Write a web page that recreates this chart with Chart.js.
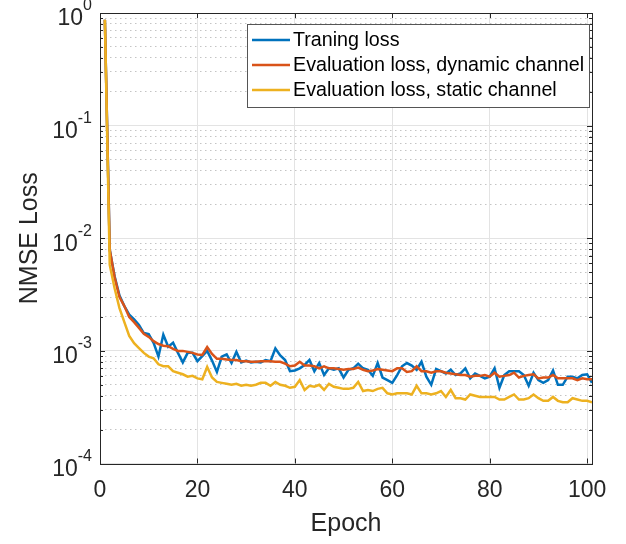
<!DOCTYPE html>
<html>
<head>
<meta charset="utf-8">
<script src="https://cdn.jsdelivr.net/npm/chart.js@4.4.1/dist/chart.umd.min.js"></script>
<style>
  html, body { margin: 0; padding: 0; background: #fff; }
</style>
</head>
<body>
<canvas id="lossChart" width="626" height="544"></canvas>
<script>
const epochs = [1,2,3,4,5,6,7,8,9,10,11,12,13,14,15,16,17,18,19,20,
  21,22,23,24,25,26,27,28,29,30,31,32,33,34,35,36,37,38,39,40,
  41,42,43,44,45,46,47,48,49,50,51,52,53,54,55,56,57,58,59,60,
  61,62,63,64,65,66,67,68,69,70,71,72,73,74,75,76,77,78,79,80,
  81,82,83,84,85,86,87,88,89,90,91,92,93,94,95,96,97,98,99,100,101];

const trainLoss = [0.87,0.0079,0.0046,0.0031,0.0025,0.0021,0.0019,0.0017,0.00144,0.00141,
  0.00118,0.00089,0.00139,0.00109,0.00118,0.00096,0.00079,0.00096,0.00096,0.00081,
  0.0009,0.001,0.00082,0.00065,0.00089,0.00093,0.00078,0.00098,0.00079,0.00082,
  0.00079,0.0008,0.00079,0.00083,0.00081,0.00105,0.00091,0.00083,0.00066,0.00067,
  0.0007,0.00075,0.00083,0.00066,0.00078,0.00061,0.0007,0.00068,0.0007,0.00058,
  0.00068,0.0007,0.00077,0.0007,0.00068,0.0006,0.00078,0.00058,0.00055,0.00052,
  0.00061,0.00073,0.00078,0.00074,0.00068,0.0008,0.00059,0.0005,0.00069,0.00066,
  0.00063,0.00068,0.00061,0.00063,0.0007,0.00057,0.00063,0.0006,0.00057,0.00059,
  0.0007,0.00047,0.00061,0.00066,0.00066,0.00066,0.00061,0.00049,0.00064,0.00055,
  0.00052,0.00055,0.00067,0.0005,0.0005,0.00059,0.00059,0.00057,0.00061,0.00062,0.00052];

const evalDynamic = [0.87,0.0079,0.0045,0.003,0.0025,0.002,0.0018,0.0016,0.00142,0.00133,
  0.00122,0.00115,0.00111,0.0011,0.00104,0.001,0.001,0.00098,0.00096,0.00093,
  0.00092,0.00108,0.00094,0.00085,0.00085,0.00084,0.00083,0.00083,0.00081,0.00081,
  0.0008,0.0008,0.00081,0.00081,0.00081,0.0008,0.0008,0.00077,0.00073,0.00074,
  0.0008,0.00074,0.00074,0.00073,0.0007,0.00073,0.0007,0.0007,0.00069,0.00068,
  0.00069,0.00069,0.00071,0.00068,0.00066,0.00067,0.00069,0.00068,0.00067,0.00066,
  0.0007,0.0007,0.00065,0.00066,0.00073,0.00066,0.00066,0.00064,0.00066,0.00066,
  0.00064,0.00063,0.00062,0.00061,0.00061,0.00059,0.0006,0.0006,0.00061,0.00059,
  0.00064,0.00059,0.0006,0.00061,0.00064,0.00058,0.0006,0.00061,0.00062,0.00057,
  0.00058,0.00058,0.00061,0.00057,0.00057,0.00057,0.00057,0.00055,0.00057,0.00056,0.00056];

const evalStatic = [0.87,0.0058,0.0036,0.0024,0.0018,0.00136,0.00117,0.00106,0.00096,0.00089,
  0.00086,0.00076,0.00073,0.00073,0.00066,0.00064,0.00062,0.00059,0.0006,0.00057,
  0.00056,0.00072,0.00058,0.00053,0.00052,0.00051,0.0005,0.00051,0.00049,0.0005,
  0.00049,0.0005,0.00052,0.00052,0.00049,0.00053,0.0005,0.00049,0.00047,0.00048,
  0.00055,0.00045,0.00049,0.00048,0.0005,0.00045,0.00051,0.00048,0.00047,0.00046,
  0.00046,0.00047,0.00053,0.00044,0.00045,0.00044,0.00046,0.00047,0.00042,0.00041,
  0.00042,0.00042,0.00042,0.00041,0.00049,0.00042,0.00042,0.00041,0.00042,0.00044,
  0.00039,0.00045,0.00038,0.00038,0.00037,0.00041,0.0004,0.00039,0.00039,0.00039,
  0.00039,0.00037,0.00037,0.00039,0.00041,0.00037,0.00037,0.00038,0.00041,0.00038,
  0.00036,0.00036,0.00039,0.00036,0.00035,0.00035,0.00038,0.00037,0.00036,0.00036,0.00035];

const seriesNames = ['Traning loss', 'Evaluation loss, dynamic channel', 'Evaluation loss, static channel'];
const seriesColors = ['#0072BD', '#D95319', '#EDB120'];

const xTicks = [0, 20, 40, 60, 80, 100];
const yDecades = [1e-4, 1e-3, 1e-2, 1e-1, 1];
const yExponents = ['-4', '-3', '-2', '-1', '0'];
// minor grid values between decades
const yMinor = [2e-4,3e-4,4e-4,5e-4,6e-4,7e-4,8e-4,9e-4,
  2e-3,3e-3,4e-3,5e-3,6e-3,7e-3,8e-3,9e-3,
  2e-2,3e-2,4e-2,5e-2,6e-2,7e-2,8e-2,9e-2,
  0.2,0.3,0.4,0.5,0.6,0.7,0.8,0.9];

const FONT = 'Liberation Sans, Arial, Helvetica, sans-serif';
const INK = '#262626';

function toPoints(vals) {
  return vals.map((v, i) => ({ x: epochs[i], y: v }));
}

function isDecade(v) {
  return yDecades.some(d => Math.abs(d - v) / d < 1e-6);
}

// box, inward ticks, y labels with exponents, legend
const framePlugin = {
  id: 'frame',
  afterDraw(chart) {
    const { ctx, chartArea: a, scales } = chart;
    const x = scales.x, y = scales.y;
    ctx.save();
    ctx.strokeStyle = INK;
    ctx.lineWidth = 1;
    ctx.strokeRect(Math.round(a.left) + 0.5, Math.round(a.top) + 0.5,
      Math.round(a.right - a.left), Math.round(a.bottom - a.top));

    ctx.beginPath();
    xTicks.forEach(v => {
      const px = Math.round(x.getPixelForValue(v)) + 0.5;
      ctx.moveTo(px, a.bottom); ctx.lineTo(px, a.bottom - 5);
      ctx.moveTo(px, a.top); ctx.lineTo(px, a.top + 5);
    });
    yDecades.concat(yMinor).forEach(v => {
      const len = isDecade(v) ? 5 : 3;
      const py = Math.round(y.getPixelForValue(v)) + 0.5;
      ctx.moveTo(a.left, py); ctx.lineTo(a.left + len, py);
      ctx.moveTo(a.right, py); ctx.lineTo(a.right - len, py);
    });
    ctx.stroke();

    // y tick labels: 10^n
    ctx.fillStyle = INK;
    ctx.textBaseline = 'middle';
    yDecades.forEach((v, i) => {
      const py = y.getPixelForValue(v);
      const rightEdge = a.left - 8;
      ctx.font = '16px ' + FONT;
      const ew = ctx.measureText(yExponents[i]).width;
      ctx.textAlign = 'left';
      ctx.fillText(yExponents[i], rightEdge - ew, py - 7);
      ctx.font = '23px ' + FONT;
      ctx.textAlign = 'right';
      ctx.fillText('10', rightEdge - ew, py + 6);
    });

    // legend
    const lx = 247, ly = 24, lw = 342, lh = 83;
    ctx.fillStyle = '#fff';
    ctx.fillRect(lx, ly, lw, lh);
    ctx.strokeStyle = '#555';
    ctx.strokeRect(lx + 0.5, ly + 0.5, lw, lh);
    ctx.font = '19.7px ' + FONT;
    ctx.textAlign = 'left';
    chart.data.datasets.forEach((ds, i) => {
      const ry = 40 + i * 25;
      ctx.strokeStyle = ds.borderColor;
      ctx.lineWidth = 2.5;
      ctx.beginPath();
      ctx.moveTo(252, ry); ctx.lineTo(290, ry);
      ctx.stroke();
      ctx.fillStyle = '#000';
      ctx.fillText(ds.label, 293, ry + 1);
    });
    ctx.restore();
  }
};

new Chart(document.getElementById('lossChart').getContext('2d'), {
  type: 'line',
  data: {
    datasets: [
      { label: seriesNames[0], data: toPoints(trainLoss), borderColor: seriesColors[0], order: 3 },
      { label: seriesNames[1], data: toPoints(evalDynamic), borderColor: seriesColors[1], order: 2 },
      { label: seriesNames[2], data: toPoints(evalStatic), borderColor: seriesColors[2], order: 1 }
    ]
  },
  options: {
    responsive: false,
    animation: false,
    events: [],
    layout: { padding: { left: 15, right: 34, top: 13, bottom: 1 } },
    elements: {
      line: { borderWidth: 2.5, tension: 0, fill: false },
      point: { radius: 0 }
    },
    plugins: {
      legend: { display: false },
      tooltip: { enabled: false }
    },
    scales: {
      x: {
        type: 'linear',
        min: 0,
        max: 101,
        afterBuildTicks: axis => { axis.ticks = xTicks.map(v => ({ value: v })); },
        grid: { color: '#e3e3e3', drawTicks: false },
        border: { display: false },
        ticks: { color: INK, padding: 16, font: { size: 23, family: FONT, lineHeight: 1 } },
        title: { display: true, text: 'Epoch', color: INK, padding: { top: -7, bottom: 6.5 }, font: { size: 25, family: FONT, lineHeight: 1 } }
      },
      y: {
        type: 'logarithmic',
        min: 1e-4,
        max: 1,
        afterBuildTicks: axis => {
          axis.ticks = yDecades.concat(yMinor).sort((p, q) => p - q).map(v => ({ value: v }));
        },
        grid: {
          drawTicks: false,
          color: ctx => (ctx.tick && isDecade(ctx.tick.value)) ? '#e3e3e3' : '#c4c4c4'
        },
        border: {
          display: false,
          dash: ctx => (ctx.tick && isDecade(ctx.tick.value)) ? [] : [1.5, 3.5]
        },
        ticks: { display: false },
        title: { display: true, text: 'NMSE Loss', color: INK, padding: { top: 0, bottom: 55 }, font: { size: 25, family: FONT } }
      }
    }
  },
  plugins: [framePlugin]
});
</script>
</body>
</html>
